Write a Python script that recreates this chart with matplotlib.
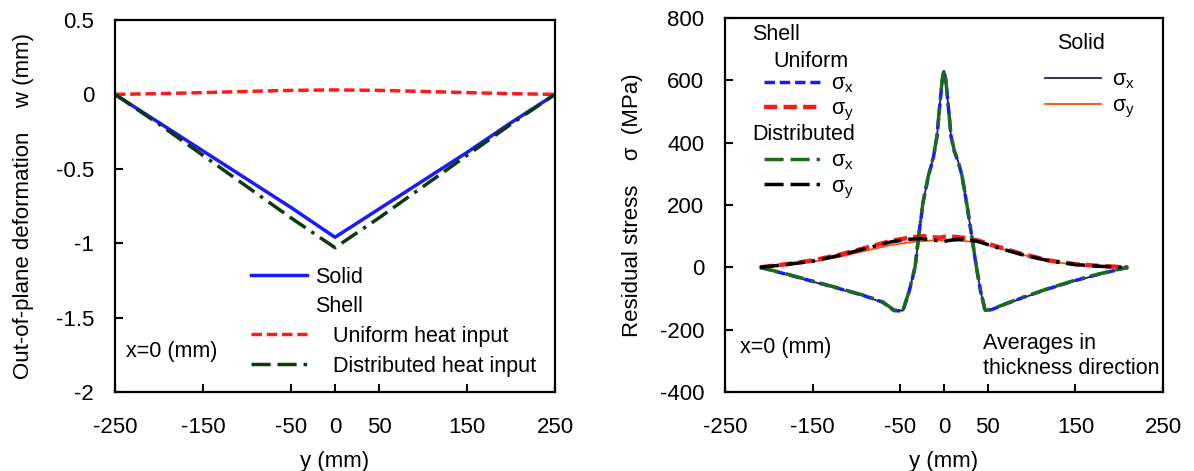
import numpy as np
import matplotlib.pyplot as plt
from matplotlib.lines import Line2D

plt.rcParams['font.family'] = ['Liberation Sans', 'DejaVu Sans']
plt.rcParams['mathtext.fontset'] = 'custom'
plt.rcParams['mathtext.rm'] = 'Liberation Sans'

# left panel: out-of-plane deformation along x=0
y_w = [-250, -200, -150, -100, -50, 0, 50, 100, 150, 200, 250]
w_solid = [0, -0.19, -0.38, -0.57, -0.76, -0.96, -0.77, -0.58, -0.39, -0.19, 0]
w_uniform = [0, 0.005, 0.012, 0.02, 0.027, 0.03, 0.027, 0.02, 0.012, 0.005, 0]
w_distributed = [0, -0.2, -0.41, -0.62, -0.83, -1.03, -0.83, -0.62, -0.41, -0.2, 0]

# right panel: residual stress averaged in thickness direction
y_sx = [-210, -180, -150, -120, -90, -70, -57, -47, -40, -33, -28, -24, -18, -12, -8, -5,
        -2, 0, 2, 5, 8, 12, 16, 20, 25, 30, 37, 42, 47, 55, 70, 90, 120, 150, 180, 210]
sx_shell_uni = [0, -22, -45, -68, -92, -112, -139, -140, -80, 0, 120, 206, 290, 354, 420, 514,
                600, 630, 600, 514, 420, 370, 340, 300, 220, 130, 0, -80, -140, -135, -118, -97,
                -68, -42, -20, 0]
sx_shell_dist = [0, -21, -44, -67, -91, -111, -137, -139, -78, 2, 122, 208, 292, 356, 422, 516,
                 602, 632, 602, 516, 422, 372, 342, 302, 222, 132, 2, -78, -138, -134, -117, -96,
                 -67, -41, -19, 0]
sx_solid = [0, -23, -46, -69, -93, -113, -138, -139, -79, 1, 121, 207, 291, 355, 421, 515,
            601, 631, 601, 515, 421, 371, 341, 301, 221, 131, 1, -79, -139, -136, -119, -98,
            -69, -43, -21, 0]

y_sy = [-210, -180, -150, -120, -90, -60, -40, -25, -15, -5, 0, 5, 15, 25, 40, 60, 90, 120, 150, 180, 210]
sy_shell_uni = [0, 10, 22, 40, 62, 85, 95, 100, 97, 95, 98, 100, 97, 94, 85, 67, 42, 22, 10, 4, 0]
sy_shell_dist = [0, 9, 20, 38, 60, 82, 90, 92, 88, 85, 83, 86, 90, 90, 82, 64, 40, 21, 9, 3, 0]
sy_solid = [0, 8, 18, 33, 53, 72, 80, 84, 86, 86, 86, 86, 85, 84, 80, 64, 40, 20, 8, 2, 0]

fs = 16
fl = 15.5
blue = '#1a1aff'
red = '#ff1a1a'
dkgreen = '#0b3a0b'
green = '#1d6a1d'
purple = '#2a1a55'
orange = '#ff4a10'
dash = (0, (3.0, 1.4))
dashdot = (0, (5.5, 2.0, 5.5, 2.0, 1.0, 2.0))

fig = plt.figure(figsize=(11.94, 4.71), dpi=100)
ax1 = fig.add_axes([115 / 1194, 1 - 392 / 471, 440 / 1194, 372 / 471])
ax2 = fig.add_axes([725 / 1194, 1 - 392 / 471, 438 / 1194, 374 / 471])

for ax in (ax1, ax2):
    for s in ax.spines.values():
        s.set_linewidth(1.6)
    ax.tick_params(direction='in', length=6, width=1.5, labelsize=fs, top=False, right=False)
    ax.tick_params(axis='x', pad=18)
    ax.tick_params(axis='y', pad=15)

# ---- left
ax1.plot(y_w, w_solid, color=blue, lw=2.5)
ax1.plot(y_w, w_uniform, color=red, lw=2.5, ls=dash)
ax1.plot(y_w, w_distributed, color=dkgreen, lw=2.5, ls=dashdot)
ax1.set_xlim(-250, 250)
ax1.set_ylim(-2, 0.5)
ax1.set_xticks([-250, -150, -50, 0, 50, 150, 250])
ax1.set_yticks([-2, -1.5, -1, -0.5, 0, 0.5])
ax1.set_yticklabels(['-2', '-1.5', '-1', '-0.5', '0', '0.5'])
ax1.set_xticklabels(['-250', '-150', '-50', '0', '50', '150', '250'])
ax1.set_xlabel('y (mm)', fontsize=fs, labelpad=9)
ax1.set_ylabel('Out-of-plane deformation    w (mm)', fontsize=fs, labelpad=16)

h1 = [Line2D([], [], color=blue, lw=2.5),
      Line2D([], [], color='none'),
      Line2D([], [], color=red, lw=2.5, ls=dash),
      Line2D([], [], color=dkgreen, lw=2.5, ls=dashdot)]
l1 = ['Solid', 'Shell', '   Uniform heat input', '   Distributed heat input']
ax1.legend(h1, l1, loc='upper left', bbox_to_anchor=(0.29, 0.36), frameon=False, fontsize=fl,
           handlelength=2.6, handletextpad=0.35, labelspacing=0.4, borderaxespad=0)
ax1.text(0.025, 0.108, 'x=0 (mm)', transform=ax1.transAxes, fontsize=fl, va='center')

# ---- right
ax2.plot(y_sx, sx_solid, color=purple, lw=1.3)
ax2.plot(y_sy, sy_solid, color=orange, lw=1.3)
ax2.plot(y_sx, sx_shell_uni, color=blue, lw=2.5, ls=dash)
ax2.plot(y_sy, sy_shell_uni, color=red, lw=3.2, ls=dash)
ax2.plot(y_sx, sx_shell_dist, color=green, lw=2.5, ls=dashdot)
ax2.plot(y_sy, sy_shell_dist, color='black', lw=2.5, ls=dashdot)
ax2.set_xlim(-250, 250)
ax2.set_ylim(-400, 800)
ax2.set_xticks([-250, -150, -50, 0, 50, 150, 250])
ax2.set_yticks([-400, -200, 0, 200, 400, 600, 800])
ax2.set_xticklabels(['-250', '-150', '-50', '0', '50', '150', '250'])
ax2.set_yticklabels(['-400', '-200', '0', '200', '400', '600', '800'])
ax2.set_xlabel('y (mm)', fontsize=fs, labelpad=9)
ax2.set_ylabel('Residual stress    σ  (MPa)', fontsize=fs, labelpad=12)

sx_lab = 'σ$_\\mathregular{x}$'
sy_lab = 'σ$_\\mathregular{y}$'
h2 = [Line2D([], [], color=blue, lw=2.5, ls=dash),
      Line2D([], [], color=red, lw=3.2, ls=dash),
      Line2D([], [], color='none'),
      Line2D([], [], color=green, lw=2.5, ls=dashdot),
      Line2D([], [], color='black', lw=2.5, ls=dashdot)]
l2 = [sx_lab, sy_lab, ' ', sx_lab, sy_lab]
leg2 = ax2.legend(h2, l2, loc='upper left', bbox_to_anchor=(0.07, 0.875), frameon=False,
                  fontsize=fl, handlelength=2.6, handletextpad=0.5, labelspacing=0.16,
                  borderaxespad=0)
ax2.add_artist(leg2)
ax2.text(0.062, 0.955, 'Shell', transform=ax2.transAxes, fontsize=fl, va='center')
ax2.text(0.11, 0.885, 'Uniform', transform=ax2.transAxes, fontsize=fl, va='center')
ax2.text(0.062, 0.688, 'Distributed', transform=ax2.transAxes, fontsize=fl, va='center')

h3 = [Line2D([], [], color=purple, lw=1.3), Line2D([], [], color=orange, lw=1.3)]
ax2.legend(h3, [sx_lab, sy_lab], loc='upper left', bbox_to_anchor=(0.712, 0.885), frameon=False,
           fontsize=fl, handlelength=2.6, handletextpad=0.5, labelspacing=0.2, borderaxespad=0)
ax2.text(0.758, 0.933, 'Solid', transform=ax2.transAxes, fontsize=fl, va='center')
ax2.text(0.035, 0.12, 'x=0 (mm)', transform=ax2.transAxes, fontsize=fl, va='center')
ax2.text(0.589, 0.096, 'Averages in\nthickness direction', transform=ax2.transAxes, fontsize=fl,
         va='center', linespacing=1.3)

fig.savefig('out.png', dpi=100)
